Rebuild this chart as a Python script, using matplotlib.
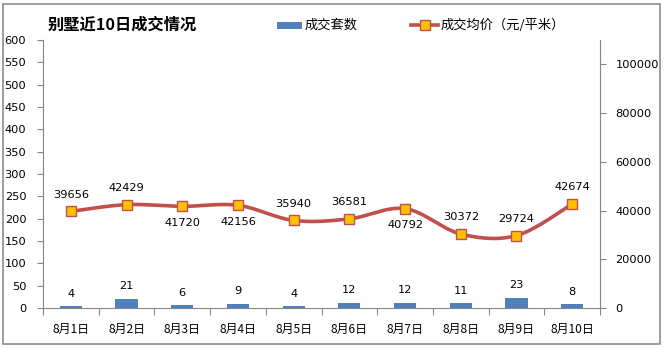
import numpy as np
import matplotlib
matplotlib.use('Agg')
import matplotlib.pyplot as plt
from matplotlib.patches import Rectangle
from matplotlib.lines import Line2D

dates = ['8月1日', '8月2日', '8月3日', '8月4日', '8月5日',
         '8月6日', '8月7日', '8月8日', '8月9日', '8月10日']
units = [4, 21, 6, 9, 4, 12, 12, 11, 23, 8]
prices = [39656, 42429, 41720, 42156, 35940, 36581, 40792, 30372, 29724, 42674]
price_label_side = ['above', 'above', 'below', 'below', 'above',
                    'above', 'below', 'above', 'above', 'above']
left_ticks = list(range(0, 601, 50))
right_ticks = list(range(0, 100001, 20000))

CJK = ['Noto Sans CJK SC', 'DejaVu Sans']
NUM = ['DejaVu Sans', 'Noto Sans CJK SC']
plt.rcParams['font.family'] = CJK

W, H = 665, 348
fig = plt.figure(figsize=(W / 100, H / 100), dpi=100)
fig.patch.set_facecolor('white')

# outer chart border
fig.patches.append(Rectangle((3 / W, 4 / H), 657 / W, 340 / H, transform=fig.transFigure,
                             fill=False, edgecolor='#8c8c8c', linewidth=1.2))

L, R, T, B = 43, 600, 40, 308
ax = fig.add_axes([L / W, 1 - B / H, (R - L) / W, (B - T) / H])
ax2 = ax.twinx()

axis_col = '#868686'
x = np.arange(len(dates))
NFS = 8.2

# bars
ax.bar(x, units, width=0.4, color='#4F81BD', zorder=2)
for xi, u in zip(x, units):
    ax.annotate(str(u), (xi, u), xytext=(0, 9), textcoords='offset points',
                ha='center', va='center', fontsize=NFS, family=NUM, color='black')

ax.set_xlim(-0.5, len(dates) - 0.5)
ax.set_ylim(0, 600)
ax.set_yticks(left_ticks)
ax.set_yticklabels([str(v) for v in left_ticks], family=NUM, fontsize=NFS)
ax.set_xticks(np.arange(-0.5, len(dates), 1))
ax.set_xticklabels([])
ax.set_xticks(x, minor=True)
ax.set_xticklabels(dates, minor=True, fontsize=8.6)
ax.tick_params(axis='x', which='major', length=5, color=axis_col, direction='out')
ax.tick_params(axis='x', which='minor', length=0, pad=11)
ax.tick_params(axis='y', length=4, color=axis_col, pad=8)

for s in ['top']:
    ax.spines[s].set_visible(False)
    ax2.spines[s].set_visible(False)
ax.spines['right'].set_visible(False)
for s in ['left', 'bottom']:
    ax.spines[s].set_color(axis_col)
ax2.spines['left'].set_visible(False)
ax2.spines['bottom'].set_visible(False)
ax2.spines['right'].set_color(axis_col)


def catmull_rom(xs, ys, n=30):
    xs = np.asarray(xs, float)
    ys = np.asarray(ys, float)
    px, py = [], []
    m = len(xs)
    for i in range(m - 1):
        i0 = max(i - 1, 0)
        i3 = min(i + 2, m - 1)
        p0, p1, p2, p3 = (np.array([xs[k], ys[k]]) for k in (i0, i, i + 1, i3))
        c1 = p1 + (p2 - p0) / 6.0
        c2 = p2 - (p3 - p1) / 6.0
        t = np.linspace(0, 1, n)[:, None]
        pts = ((1 - t) ** 3) * p1 + 3 * ((1 - t) ** 2) * t * c1 + 3 * (1 - t) * t ** 2 * c2 + t ** 3 * p2
        px.extend(pts[:, 0])
        py.extend(pts[:, 1])
    return np.array(px), np.array(py)


sx, sy = catmull_rom(x, prices)
ax2.plot(sx, sy, color='#C0504D', linewidth=2.6, zorder=3, solid_capstyle='round')
ax2.plot(x, prices, linestyle='none', marker='s', markersize=6.5,
         markerfacecolor='#FFC000', markeredgecolor='#C0504D', markeredgewidth=1.0, zorder=4)
for xi, p, side in zip(x, prices, price_label_side):
    dy = 12 if side == 'above' else -12
    ax2.annotate(str(p), (xi, p), xytext=(0, dy), textcoords='offset points',
                 ha='center', va='center', fontsize=NFS, family=NUM, color='black')

ax2.set_ylim(0, 110000)
ax2.set_yticks(right_ticks)
ax2.set_yticklabels([str(v) for v in right_ticks], family=NUM, fontsize=NFS)
ax2.tick_params(axis='y', length=4, color=axis_col, pad=7)
ax.set_zorder(1)
ax2.set_zorder(2)
ax2.patch.set_visible(False)

# title
fig.text(48 / W, 1 - 25 / H, '别墅近10日成交情况', fontsize=11.7, fontweight='bold',
         ha='left', va='center', family=CJK)

# legend (manual)
fig.patches.append(Rectangle((277 / W, 1 - 29 / H), 25 / W, 7 / H, transform=fig.transFigure,
                             facecolor='#4F81BD', edgecolor='none'))
fig.text(305 / W, 1 - 25 / H, '成交套数', fontsize=9.5, ha='left', va='center', family=CJK)
fig.lines.append(Line2D([411 / W, 438 / W], [1 - 25 / H, 1 - 25 / H], transform=fig.transFigure,
                        color='#C0504D', linewidth=2.6))
fig.lines.append(Line2D([424.5 / W], [1 - 25 / H], transform=fig.transFigure, marker='s',
                        markersize=6.5, markerfacecolor='#FFC000', markeredgecolor='#C0504D',
                        markeredgewidth=1.0, linestyle='none'))
fig.text(441 / W, 1 - 25 / H, '成交均价（元/平米）', fontsize=9.5, ha='left', va='center', family=CJK)

fig.savefig('out.png', dpi=100, facecolor='white')
